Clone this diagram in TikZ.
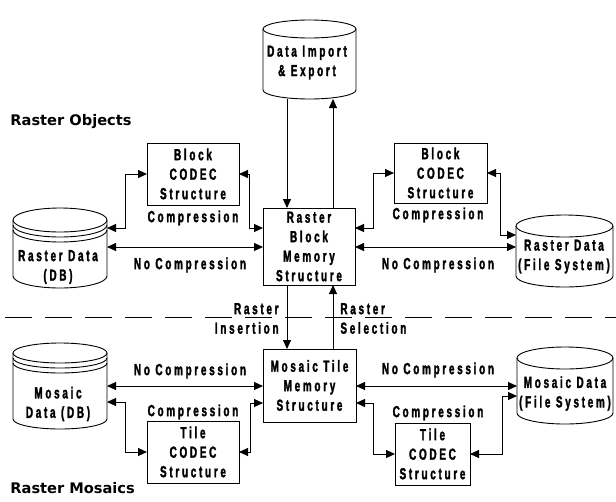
\documentclass[tikz,border=0pt]{standalone}
\usepackage{fontspec}
\usetikzlibrary{arrows.meta}
\newfontfamily\condf{Liberation Sans Bold}[FakeStretch=0.62,LetterSpace=17,FakeBold=1.8]
\newfontfamily\headf{DejaVu Sans Bold}
\tikzset{
  tx/.style={font={\condf\fontsize{16}{19.5}\selectfont}, align=center, inner sep=0pt},
  boxnode/.style={draw, tx, outer sep=0pt},
  hd/.style={font={\headf\fontsize{14.6}{16}\selectfont}, anchor=west, inner sep=0pt},
  tip/.tip={Triangle[length=9pt,width=8pt]},
  dbl/.style={tip-tip},
  one/.style={-tip},
  cylbox/.style={inner sep=0pt, outer sep=0pt}
}
\newcommand{\drawcyl}[6]{%
  \pgfmathsetmacro\cylcx{(#2+#3)/2}%
  \pgfmathsetmacro\cylrx{(#3-#2)/2}%
  \pgfmathsetmacro\cylcy{(#4+#5)/2}%
  \pgfmathsetmacro\cylw{#3-#2}%
  \pgfmathsetmacro\cylh{#5-#4}%
  \node[cylbox, minimum width=\cylw pt, minimum height=\cylh pt] (#1) at (\cylcx,\cylcy) {};
  \draw (\cylcx,#4+#6) ellipse [x radius=\cylrx pt, y radius=#6 pt];
  \draw (#2,#4+#6) -- (#2,#5-#6) arc[start angle=180,end angle=360,x radius=\cylrx pt,y radius=#6 pt] -- (#3,#4+#6);
}
\newcommand{\cylrim}[4]{% x1, x2, ytop+ry, ry
  \pgfmathsetmacro\cylrx{(#2-#1)/2}%
  \draw (#1,#3+5) arc[start angle=180,end angle=360,x radius=\cylrx pt,y radius=#4 pt];
  \draw (#1,#3+10) arc[start angle=180,end angle=360,x radius=\cylrx pt,y radius=#4 pt];
}
\begin{document}
\begin{tikzpicture}[x=1pt,y=-1pt,line width=0.9pt]
\useasboundingbox (0,0) rectangle (616,501);

% headings
\node[hd] (hObj) at (10,122) {Raster Objects};
\node[hd] (hMos) at (10,488) {Raster Mosaics};

% separator
\coordinate (dl1) at (5,317);
\coordinate (dl2) at (616,317);
\draw[dash pattern=on 27pt off 13pt] (dl1) -- (dl2);

% cylinders
\drawcyl{DI}{263}{356}{20}{99}{9}
\node[tx] (DIt) at (307,62.5) {Data Import\\\& Export};

\drawcyl{RDB}{13}{107}{208}{288}{12}
\cylrim{13}{107}{220}{12}
\node[tx] (RDBt) at (58,267) {Raster Data\\(DB)};

\drawcyl{RFS}{516}{613}{215}{287}{11}
\node[tx] (RFSt) at (564,256.5) {Raster Data\\(File System)};

\drawcyl{MDB}{13}{107}{343}{429}{10}
\cylrim{13}{107}{353}{10}
\node[tx] (MDBt) at (58,404) {Mosaic\\Data (DB)};

\drawcyl{MFS}{517}{613}{347}{424}{11}
\node[tx] (MFSt) at (565,393.5) {Mosaic Data\\(File System)};

% boxes
\node[boxnode, minimum width=92pt, minimum height=62pt] (BCL) at (193,174) {Block\\CODEC\\Structure};
\node[boxnode, minimum width=93pt, minimum height=60pt] (BCR) at (440.5,173) {Block\\CODEC\\Structure};
\node[boxnode, minimum width=92pt, minimum height=77pt] (RBM) at (309,246.5) {Raster\\Block\\Memory\\Structure};
\node[boxnode, minimum width=93pt, minimum height=73pt] (MTM) at (309.5,385.5) {Mosaic Tile\\Memory\\Structure};
\node[boxnode, minimum width=92pt, minimum height=62pt] (TCL) at (193,452) {Tile\\CODEC\\Structure};
\node[boxnode, minimum width=75pt, minimum height=62pt] (TCR) at (432.5,454) {Tile\\CODEC\\Structure};

% labels
\node[tx] (lc1) at (193,218) {Compression};
\node[tx] (lc2) at (438,215) {Compression};
\node[tx] (ln1) at (190,265) {No Compression};
\node[tx] (ln2) at (438,265) {No Compression};
\node[tx] (ln3) at (190,371) {No Compression};
\node[tx] (ln4) at (438,370) {No Compression};
\node[tx] (lc3) at (193,412) {Compression};
\node[tx] (lc4) at (438,413) {Compression};
\node[tx, anchor=east, align=right] (lri) at (279,318.5) {Raster\\Insertion};
\node[tx, anchor=west, align=left] (lrs) at (340,318.5) {Raster\\Selection};

% helper coordinates
\coordinate (c287) at (287,0);
\coordinate (c333) at (333,0);
\coordinate (r228) at (0,228);
\coordinate (r235) at (0,235);
\coordinate (r247) at (0,247);
\coordinate (r386) at (0,386);
\coordinate (r396) at (0,396);
\coordinate (r402) at (0,402);
\coordinate (r403) at (0,403);

% connectors
\draw[one] (DI.south -| c287) -- (RBM.north -| c287);
\draw[one] (RBM.north -| c333) -- (DI.south -| c333);
\draw[dbl] (RDB.east |- r228) -- ++(18,0) |- (BCL.west);
\draw[dbl] (BCL.east) -- ++(10,0) |- (RBM.west |- r228);
\draw[dbl] (RDB.east |- r247) -- (RBM.west |- r247);
\draw[dbl] (RBM.east |- r228) -- ++(18,0) |- (BCR.west);
\draw[dbl] (BCR.east) -- ++(13,0) |- (RFS.west |- r235);
\draw[dbl] (RBM.east |- r247) -- (RFS.west |- r247);
\draw[one] (RBM.south -| c287) -- (MTM.north -| c287);
\draw[one] (MTM.north -| c333) -- (RBM.south -| c333);
\draw[dbl] (MDB.east |- r386) -- (MTM.west |- r386);
\draw[dbl] (MDB.east |- r402) -- ++(18,0) |- (TCL.west);
\draw[dbl] (TCL.east) -- ++(11,0) |- (MTM.west |- r403);
\draw[dbl] (MTM.east |- r386) -- (MFS.west |- r386);
\draw[dbl] (MTM.east |- r403) -- ++(17,0) |- (TCR.west);
\draw[dbl] (TCR.east) -- ++(32,0) |- (MFS.west |- r396);
\end{tikzpicture}
\end{document}
